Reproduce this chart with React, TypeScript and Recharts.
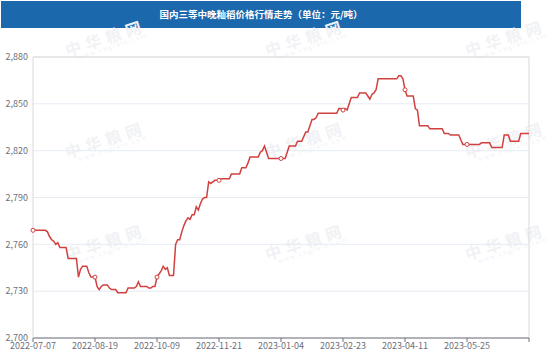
import { LineChart, Line, XAxis, YAxis, CartesianGrid, ReferenceLine } from "recharts";

const dateLabels = [
  "2022-07-07",
  "2022-08-19",
  "2022-10-09",
  "2022-11-21",
  "2023-01-04",
  "2023-02-23",
  "2023-04-11",
  "2023-05-25",
];

const yTicks = [2700, 2730, 2760, 2790, 2820, 2850, 2880];

// one value per trading day
const prices = [
  2769, 2769, 2769, 2769, 2769, 2769, 2769, 2768, 2765, 2763,
  2762, 2760, 2761, 2758, 2758, 2758, 2758, 2751, 2751, 2751,
  2751, 2751, 2739, 2744, 2746, 2746, 2746, 2742, 2739, 2739,
  2739, 2733, 2731, 2733, 2734, 2734, 2734, 2732, 2731, 2731,
  2731, 2729, 2729, 2729, 2729, 2729, 2732, 2732, 2732, 2732,
  2733, 2736, 2733, 2733, 2733, 2733, 2732, 2732, 2733, 2733,
  2739, 2741, 2743, 2746, 2744, 2745, 2740, 2740, 2740, 2760,
  2763, 2763, 2768, 2772, 2775, 2777, 2776, 2779, 2779, 2784,
  2782, 2786, 2789, 2790, 2790, 2800, 2799, 2800, 2801, 2801,
  2801, 2802, 2802, 2802, 2802, 2802, 2805, 2805, 2805, 2805,
  2805, 2809, 2809, 2809, 2812, 2816, 2816, 2816, 2816, 2816,
  2819, 2820, 2823, 2819, 2815, 2815, 2815, 2815, 2815, 2815,
  2815, 2815, 2815, 2819, 2823, 2823, 2823, 2823, 2826, 2826,
  2826, 2829, 2832, 2832, 2836, 2840, 2840, 2841, 2844, 2844,
  2844, 2844, 2844, 2844, 2844, 2844, 2844, 2844, 2847, 2847,
  2846, 2847, 2846, 2850, 2854, 2854, 2854, 2854, 2857, 2857,
  2857, 2857, 2855, 2853, 2856, 2857, 2859, 2866, 2866, 2866,
  2866, 2866, 2866, 2866, 2866, 2866, 2866, 2868, 2868, 2866,
  2859, 2855, 2855, 2855, 2855, 2847, 2846, 2836, 2836, 2836,
  2836, 2836, 2834, 2834, 2834, 2834, 2834, 2834, 2834, 2831,
  2831, 2831, 2830, 2830, 2830, 2830, 2830, 2827, 2824, 2824,
  2824, 2824, 2824, 2824, 2824, 2824, 2824, 2825, 2825, 2825,
  2825, 2825, 2822, 2822, 2822, 2822, 2822, 2822, 2830, 2830,
  2830, 2826, 2826, 2826, 2826, 2826, 2831, 2831, 2831, 2831,
  2831,
];

const labelStep = 30;
const xTicks = [0, 30, 60, 90, 120, 150, 180, 210, 240];

const data = prices.map((v, i) => ({ i, v }));

const font = '"Noto Sans CJK SC", "Noto Sans", sans-serif';

const marks = [
  [40, 50], [240, 50], [440, 50],
  [40, 152], [240, 152], [440, 152],
  [40, 254], [240, 254], [440, 254],
];

function Dot(props: any) {
  const { cx, cy, index } = props;
  if (index % labelStep !== 0 || index >= 240) return <g key={index} />;
  return <circle key={index} cx={cx} cy={cy} r={2} fill="#fff" stroke="#d0413f" strokeWidth={1} />;
}

export default function App() {
  return (
    <div style={{ position: "absolute", left: 0, top: 0, width: 554, height: 359, background: "#fff", fontFamily: font }}>
      <div
        style={{
          position: "absolute",
          left: 1,
          top: 1,
          width: 520,
          height: 27,
          background: "#1c68ad",
          color: "#fff",
          fontSize: 9.5,
          fontWeight: "bold",
          lineHeight: "27px",
          textAlign: "center",
        }}
      >
        国内三等中晚籼稻价格行情走势（单位：元/吨）
      </div>
      {marks.map(([x, y], k) => (
        <div
          key={k}
          style={{
            position: "absolute",
            left: x,
            top: y,
            transform: "rotate(-18deg)",
            transformOrigin: "left top",
            color: "#f1f2f5",
            whiteSpace: "nowrap",
            lineHeight: 1,
          }}
        >
          <div style={{ fontSize: 16, fontWeight: "bold", letterSpacing: 5, paddingLeft: 24 }}>中华粮网</div>
          <div style={{ fontSize: 6, letterSpacing: 1.5, paddingLeft: 34 }}>www.cngrain.com</div>
        </div>
      ))}
      <div style={{ position: "absolute", left: 0, top: 0 }}>
        <LineChart width={554} height={359} data={data} margin={{ top: 57, right: 25, left: 0, bottom: 0 }}>
          <CartesianGrid vertical={false} stroke="#e6ebf3" />
          <XAxis
            dataKey="i"
            type="number"
            domain={[0, 240]}
            ticks={xTicks}
            tickFormatter={(v: number) => dateLabels[v / labelStep] ?? ""}
            interval={0}
            height={21}
            tickSize={4}
            tickMargin={1}
            stroke="#6e7079"
            tick={{ fontSize: 9, fill: "#6e7079", fontFamily: font }}
          />
          <YAxis
            type="number"
            domain={[2700, 2880]}
            ticks={yTicks}
            width={33}
            tickSize={0}
            tickMargin={5}
            axisLine={{ stroke: "#d9d9d9" }}
            tickFormatter={(v: number) => v.toLocaleString("en-US")}
            tick={{ fontSize: 9, fill: "#6e7079", fontFamily: font }}
          />
          <ReferenceLine y={2880} stroke="#d9d9d9" />
          <ReferenceLine x={240} stroke="#d9d9d9" />
          <Line
            type="linear"
            dataKey="v"
            stroke="#d0413f"
            strokeWidth={1.5}
            dot={Dot}
            activeDot={false}
            isAnimationActive={false}
          />
        </LineChart>
      </div>
    </div>
  );
}
